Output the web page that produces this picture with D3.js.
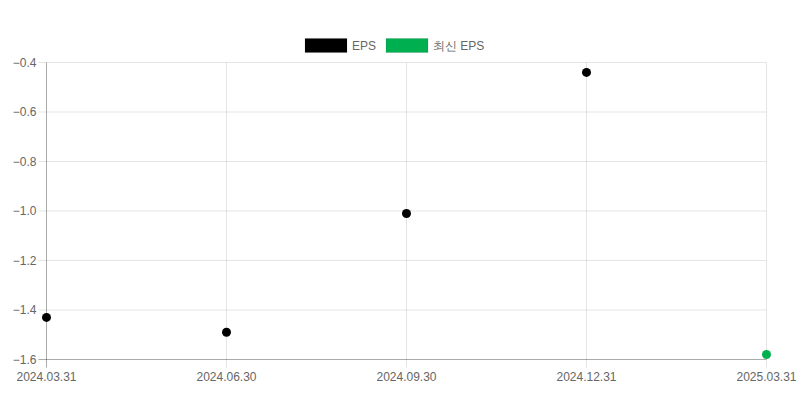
<!DOCTYPE html>
<html><head><meta charset="utf-8">
<script src="https://cdn.jsdelivr.net/npm/d3@7"></script>
<style>body{margin:0;background:#fff}svg{display:block}</style>
</head><body><svg id="c" width="800" height="400"></svg>
<script>
const categories = ["2024.03.31","2024.06.30","2024.09.30","2024.12.31","2025.03.31"];
const epsValues = [-1.43, -1.49, -1.01, -0.44, null];
const latestEpsValues = [null, null, null, null, -1.58];
const yTicks = [-1.6, -1.4, -1.2, -1.0, -0.8, -0.6, -0.4];
const seriesNames = ["EPS", "최신 EPS"];
const seriesColors = ["#000000", "#00b050"];

const svg = d3.select("#c");
const font = "Liberation Sans, Arial, Helvetica, sans-serif";
const m = {l:46.5, r:766.5, t:62.5, b:359.5};
const x = d3.scalePoint().domain(categories).range([m.l, m.r]);
const y = d3.scaleLinear().domain([-1.6, -0.4]).range([m.b, m.t]);

// grid
const g = svg.append("g");
g.selectAll(".gy").data(yTicks).join("line")
  .attr("x1", m.l-8).attr("x2", m.r).attr("y1", d=>y(d)).attr("y2", d=>y(d))
  .attr("stroke", "rgba(0,0,0,0.1)");
g.selectAll(".gx").data(categories).join("line")
  .attr("x1", d=>x(d)).attr("x2", d=>x(d)).attr("y1", m.t).attr("y2", m.b+8)
  .attr("stroke", "rgba(0,0,0,0.1)");
// axis lines
svg.append("line").attr("x1", m.l).attr("x2", m.l).attr("y1", m.t).attr("y2", m.b+8).attr("stroke", "rgba(0,0,0,0.25)");
svg.append("line").attr("x1", m.l-8).attr("x2", m.r).attr("y1", m.b).attr("y2", m.b).attr("stroke", "rgba(0,0,0,0.25)");

// tick labels
svg.selectAll(".yl").data(yTicks).join("text")
  .attr("x", m.l-10).attr("y", d=>y(d)).attr("dy", "0.35em").attr("text-anchor", "end")
  .attr("font-family", font).attr("font-size", 12).attr("fill", "#666")
  .text(d=>d3.format(".1f")(d));
svg.selectAll(".xl").data(categories).join("text")
  .attr("x", d=>x(d)).attr("y", m.b+17).attr("dy", "0.35em").attr("text-anchor", "middle")
  .attr("font-family", font).attr("font-size", 12).attr("fill", "#666")
  .text(d=>d);

// points
const series = [epsValues, latestEpsValues];
series.forEach((vals, i) => {
  svg.append("g").selectAll("circle")
    .data(categories.map((c, j) => ({c, v: vals[j]})).filter(d => d.v !== null))
    .join("circle")
    .attr("cx", d=>x(d.c)).attr("cy", d=>y(d.v)).attr("r", 4.5)
    .attr("fill", seriesColors[i]);
});

// legend
const legend = svg.append("g").attr("font-family", font).attr("font-size", 12).attr("fill", "#666");
let lx = 305;
seriesNames.forEach((n, i) => {
  legend.append("rect").attr("x", lx).attr("y", 38.5).attr("width", 42).attr("height", 14)
    .attr("fill", seriesColors[i]).attr("stroke", "rgba(0,0,0,0.1)");
  const t = legend.append("text").attr("x", lx+47).attr("y", 45.5).attr("dy", "0.35em").text(n);
  lx += 47 + t.node().getComputedTextLength() + 10;
});
</script></body></html>
